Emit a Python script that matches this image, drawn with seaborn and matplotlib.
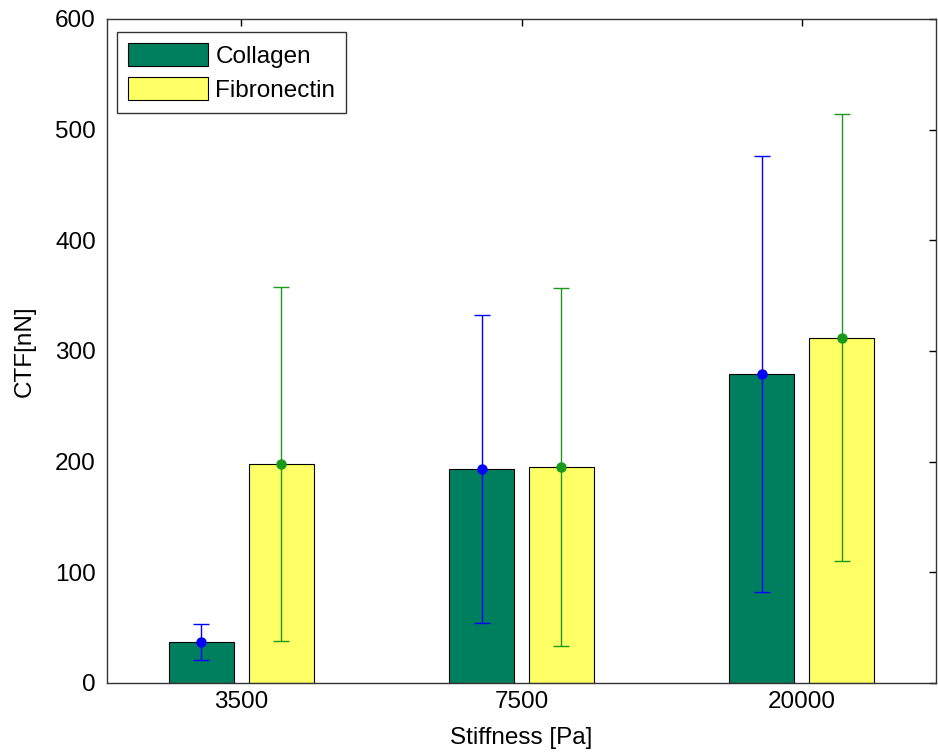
import pandas as pd
import seaborn as sns
import matplotlib.pyplot as plt

stiffness = ["3500", "7500", "20000"]
substrates = ["Collagen", "Fibronectin"]
collagen_mean = [37, 193, 279]
collagen_err = [16, 139, 197]
fibronectin_mean = [198, 195, 312]
fibronectin_err = [160, 162, 202]

bar_colors = {"Collagen": "#007f5f", "Fibronectin": "#ffff66"}
err_colors = {"Collagen": "#0000ff", "Fibronectin": "#1a9a1a"}

df = pd.DataFrame({
    "stiffness": stiffness * 2,
    "substrate": ["Collagen"] * 3 + ["Fibronectin"] * 3,
    "ctf": collagen_mean + fibronectin_mean,
    "err": collagen_err + fibronectin_err,
})

sns.set_style("white")
plt.rcParams["font.family"] = ["Liberation Sans", "DejaVu Sans"]
plt.rcParams["text.color"] = "black"
plt.rcParams["axes.labelcolor"] = "black"
plt.rcParams["xtick.color"] = "black"
plt.rcParams["ytick.color"] = "black"

fig = plt.figure(figsize=(9.38, 7.53), dpi=100)
ax = fig.add_axes([0.114, 0.093, 0.884, 0.882])

sns.barplot(data=df, x="stiffness", y="ctf", hue="substrate", order=stiffness,
            hue_order=substrates, palette=bar_colors, width=0.57, gap=0.18,
            errorbar=None, edgecolor="black", linewidth=0.8, saturation=1, ax=ax)

# error bars with mean dots, one colour per substrate
for cont, sub in zip(ax.containers, substrates):
    sub_df = df[df["substrate"] == sub].set_index("stiffness").loc[stiffness]
    xs = [p.get_x() + p.get_width() / 2 for p in cont.patches]
    ax.errorbar(xs, sub_df["ctf"], yerr=sub_df["err"], fmt="o", color=err_colors[sub],
                ecolor=err_colors[sub], elinewidth=1, capsize=6, capthick=1,
                markersize=6.5, zorder=5)

ax.set_xlim(-0.48, 2.48)
ax.set_ylim(0, 600)
ax.set_yticks(range(0, 601, 100))
ax.set_xlabel("Stiffness [Pa]", fontsize=17.5, labelpad=10)
ax.set_ylabel("CTF[nN]", fontsize=17.5, labelpad=14)
ax.tick_params(axis="both", direction="in", length=5, width=1, labelsize=17.5,
               top=True, right=True)
ax.tick_params(axis="x", pad=6)
ax.tick_params(axis="y", pad=8)
for s in ax.spines.values():
    s.set_color("#333333")
    s.set_linewidth(1)

leg = ax.legend(loc="upper left", fontsize=17.5, frameon=True, fancybox=False,
                handlelength=3.3, handleheight=1.05, borderpad=0.45, labelspacing=0.4,
                handletextpad=0.3, bbox_to_anchor=(0.012, 0.98), borderaxespad=0)
leg.get_frame().set_edgecolor("black")
leg.get_frame().set_linewidth(1)
leg.set_title(None)

fig.savefig("out.png", dpi=100)
